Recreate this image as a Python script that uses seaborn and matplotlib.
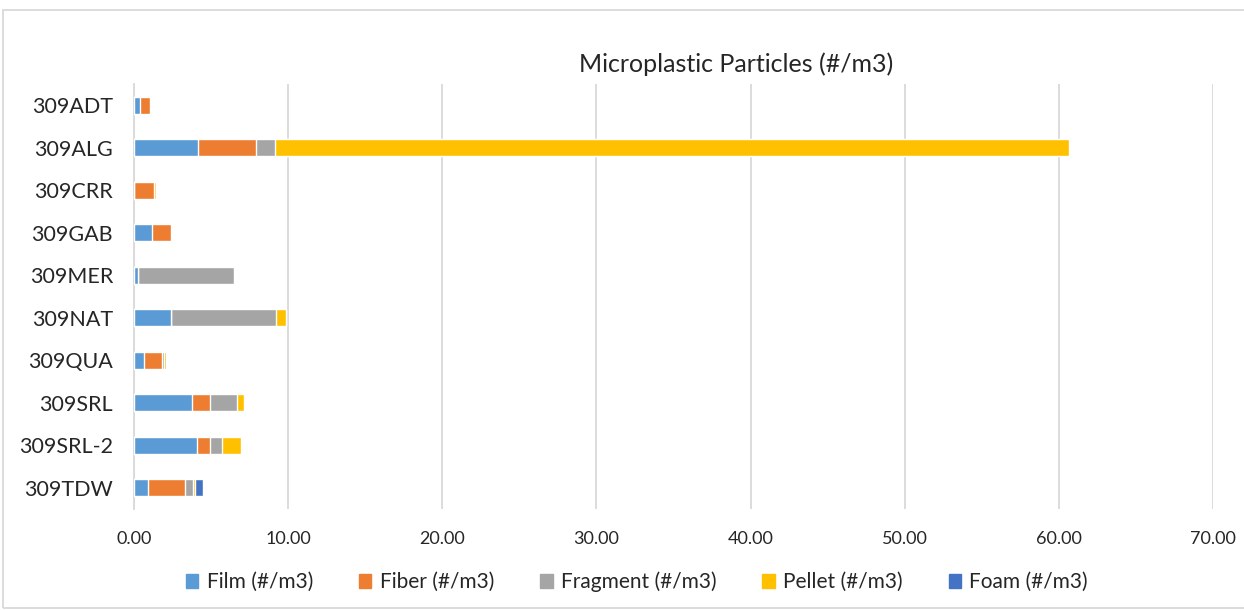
import matplotlib
matplotlib.use("Agg")
import matplotlib.pyplot as plt
import matplotlib.patches as mpatches
from matplotlib.ticker import FuncFormatter
import seaborn as sns
import pandas as pd
import numpy as np

sites = ["309ADT", "309ALG", "309CRR", "309GAB", "309MER",
         "309NAT", "309QUA", "309SRL", "309SRL-2", "309TDW"]
film = [0.37, 4.15, 0.02, 1.18, 0.25, 2.37, 0.68, 3.78, 4.08, 0.92]
fiber = [0.64, 3.77, 1.25, 1.19, 0.00, 0.00, 1.13, 1.13, 0.87, 2.41]
fragment = [0.10, 1.26, 0.00, 0.07, 6.22, 6.85, 0.15, 1.75, 0.76, 0.47]
pellet = [0.00, 51.50, 0.17, 0.08, 0.11, 0.67, 0.09, 0.48, 1.23, 0.13]
foam = [0.00, 0.00, 0.00, 0.00, 0.00, 0.00, 0.00, 0.00, 0.00, 0.52]

series = ["Film (#/m3)", "Fiber (#/m3)", "Fragment (#/m3)", "Pellet (#/m3)", "Foam (#/m3)"]
colors = ["#5B9BD5", "#ED7D31", "#A5A5A5", "#FFC000", "#4472C4"]

sns.set_style("white")
plt.rcParams['font.family'] = ['Lato', 'DejaVu Sans']

df = pd.DataFrame({"site": sites, series[0]: film, series[1]: fiber,
                   series[2]: fragment, series[3]: pellet, series[4]: foam})
cum = df[series].cumsum(axis=1)

fig = plt.figure(figsize=(12.44, 6.1), dpi=100)
ax = fig.add_axes([0.1077, 0.166, 0.975 - 0.1077, 0.862 - 0.166])

# draw cumulative totals back to front so the stack shows
for name, col in reversed(list(zip(series, colors))):
    sns.barplot(x=cum[name], y=df["site"], color=col, width=0.4,
                orient="h", ax=ax, saturation=1, zorder=3)

ax.set_xlim(0, 70)
ax.set_xticks(np.arange(0, 71, 10))
ax.xaxis.set_major_formatter(FuncFormatter(lambda v, p: f"{v:.2f}"))
ax.grid(axis="x", color="#D9D9D9", linewidth=1.3, zorder=0)
ax.set_axisbelow(True)
ax.set_xlabel("")
ax.set_ylabel("")
for s in ["top", "right", "bottom"]:
    ax.spines[s].set_visible(False)
ax.spines["left"].set_color("#D9D9D9")
ax.spines["left"].set_linewidth(1.3)
ax.tick_params(axis="x", length=0, labelsize=13, colors="#262626", pad=16)
ax.tick_params(axis="y", length=0, labelsize=15.5, colors="#262626", pad=15)

fig.text(736 / 1244, 1 - 64 / 610, "Microplastic Particles (#/m3)",
         ha="center", va="center", fontsize=18, color="#262626")

handles = [mpatches.Patch(color=c, label=s) for s, c in zip(series, colors)]
fig.legend(handles=handles, loc="center", bbox_to_anchor=(637 / 1244, 1 - 582 / 610),
           ncol=5, frameon=False, fontsize=15, handlelength=0.6, handleheight=0.6,
           handletextpad=0.4, columnspacing=2.2, labelcolor="#262626")

# chart border
fig.patches.append(mpatches.Rectangle((3 / 1244, 0.003), 1.2, 1 - 10 / 610 - 0.003,
                                      transform=fig.transFigure, fill=False,
                                      edgecolor="#D9D9D9", linewidth=1.3))

fig.savefig("out.png", dpi=100)
